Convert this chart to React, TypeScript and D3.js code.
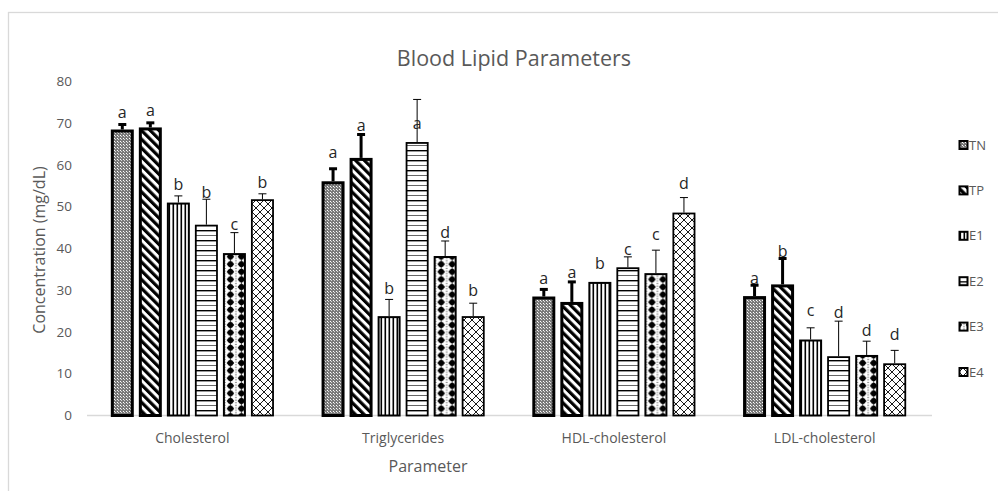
import React, { useEffect, useRef } from "react";
import * as d3 from "d3";

// data
const categories = ["Cholesterol", "Triglycerides", "HDL-cholesterol", "LDL-cholesterol"];
const series = ["TN", "TP", "E1", "E2", "E3", "E4"];
const yTicks = [0, 10, 20, 30, 40, 50, 60, 70, 80];

// mean values per series, one entry per category
const meanTN = [68.5, 56.1, 28.5, 28.6];
const meanTP = [69.0, 61.7, 27.2, 31.4];
const meanE1 = [51.0, 23.8, 32.0, 18.2];
const meanE2 = [45.7, 65.5, 35.5, 14.2];
const meanE3 = [38.9, 38.2, 34.1, 14.5];
const meanE4 = [51.8, 23.8, 48.6, 12.5];

// error (upper only)
const errTN = [1.2, 3.0, 1.7, 2.6];
const errTP = [1.1, 5.6, 4.8, 6.2];
const errE1 = [1.6, 4.0, 0.0, 2.8];
const errE2 = [6.1, 10.2, 2.5, 8.4];
const errE3 = [4.9, 3.6, 5.5, 3.3];
const errE4 = [1.3, 3.1, 3.6, 3.1];

// significance letters and the level (in mg/dL) where each one sits
const lettersTN = ["a", "a", "a", "a"];
const lettersTP = ["a", "a", "a", "b"];
const lettersE1 = ["b", "b", "b", "c"];
const lettersE2 = ["b", "a", "c", "d"];
const lettersE3 = ["c", "d", "c", "d"];
const lettersE4 = ["b", "b", "d", "d"];
const letterLevelTN = [72.5, 62.9, 32.8, 32.8];
const letterLevelTP = [73.1, 69.5, 34.3, 39.3];
const letterLevelE1 = [55.4, 30.4, 36.4, 25.2];
const letterLevelE2 = [53.5, 70.0, 39.7, 24.8];
const letterLevelE3 = [45.8, 43.9, 43.4, 20.4];
const letterLevelE4 = [55.9, 30.0, 55.5, 19.4];

const means = [meanTN, meanTP, meanE1, meanE2, meanE3, meanE4];
const errs = [errTN, errTP, errE1, errE2, errE3, errE4];
const letters = [lettersTN, lettersTP, lettersE1, lettersE2, lettersE3, lettersE4];
const letterLevels = [letterLevelTN, letterLevelTP, letterLevelE1, letterLevelE2, letterLevelE3, letterLevelE4];

const FONT = "'Open Sans', sans-serif";
const GREY = "#595959";

const App = () => {
  const svgRef = useRef<SVGSVGElement>(null);

  useEffect(() => {
    const svg = d3.select(svgRef.current);
    svg.selectAll("*").remove();

    const W = 998;
    const H = 491;
    svg.attr("width", W).attr("height", H);

    svg.append("rect").attr("width", W).attr("height", H).attr("fill", "#fff");
    // chart frame (right / bottom sides fall outside the picture)
    svg
      .append("rect")
      .attr("x", 8.5)
      .attr("y", 12.5)
      .attr("width", 1100)
      .attr("height", 600)
      .attr("fill", "none")
      .attr("stroke", "#d9d9d9")
      .attr("stroke-width", 1.3);

    // scales
    const x0 = d3.scaleBand().domain(categories).range([87, 930]).paddingInner(0.226).paddingOuter(0.113);
    const x1 = d3.scaleBand().domain(series).range([0, x0.bandwidth()]).paddingInner(0.18).paddingOuter(0);
    const y = d3.scaleLinear().domain([0, 80]).range([415.5, 81.5]);

    // fill patterns
    const defs = svg.append("defs");
    const pTN = defs.append("pattern").attr("id", "pTN").attr("patternUnits", "userSpaceOnUse").attr("width", 3).attr("height", 3);
    pTN.append("rect").attr("width", 3).attr("height", 3).attr("fill", "#7a7a7a");
    pTN.append("rect").attr("width", 1).attr("height", 1).attr("fill", "#fff");
    pTN.append("rect").attr("x", 1).attr("y", 1).attr("width", 1).attr("height", 1).attr("fill", "#d8d8d8");

    const pTP = defs.append("pattern").attr("id", "pTP").attr("patternUnits", "userSpaceOnUse").attr("width", 6.2).attr("height", 20).attr("patternTransform", "rotate(-45)");
    pTP.append("rect").attr("width", 6.2).attr("height", 20).attr("fill", "#fff");
    pTP.append("rect").attr("width", 3.2).attr("height", 20).attr("fill", "#000");

    const pE1 = defs.append("pattern").attr("id", "pE1").attr("patternUnits", "userSpaceOnUse").attr("width", 4).attr("height", 4);
    pE1.append("rect").attr("width", 4).attr("height", 4).attr("fill", "#fff");
    pE1.append("rect").attr("x", 0.5).attr("width", 1.6).attr("height", 4).attr("fill", "#000");

    const pE2 = defs.append("pattern").attr("id", "pE2").attr("patternUnits", "userSpaceOnUse").attr("width", 4).attr("height", 10);
    pE2.append("rect").attr("width", 4).attr("height", 10).attr("fill", "#fff");
    pE2.append("rect").attr("y", 0).attr("width", 4).attr("height", 1.4).attr("fill", "#000");
    pE2.append("rect").attr("y", 5).attr("width", 4).attr("height", 1).attr("fill", "#666");

    // E3 sphere pattern, one per category so the two columns sit inside each bar
    categories.forEach((c, ci) => {
      const bx = (x0(c) as number) + (x1("E3") as number);
      const p = defs
        .append("pattern")
        .attr("id", `pE3-${ci}`)
        .attr("patternUnits", "userSpaceOnUse")
        .attr("width", 11)
        .attr("height", 7.6)
        .attr("x", bx + 2)
        .attr("y", 2);
      p.append("rect").attr("width", 11).attr("height", 7.6).attr("fill", "#fff");
      p.append("path").attr("d", "M5.5,0 L9.3,3.8 L5.5,7.6 L1.7,3.8 Z").attr("fill", "#000");
      p.append("circle").attr("cx", 5.5).attr("cy", 3.8).attr("r", 2.9).attr("fill", "#000");
      p.append("path").attr("d", "M0,0V7.6M11,0V7.6").attr("stroke", "#000").attr("stroke-width", 0.8).attr("stroke-dasharray", "1,1.5");
    });

    const pE4 = defs.append("pattern").attr("id", "pE4").attr("patternUnits", "userSpaceOnUse").attr("width", 8).attr("height", 8);
    pE4.append("rect").attr("width", 8).attr("height", 8).attr("fill", "#fff");
    pE4.append("path").attr("d", "M0,0L8,8M8,0L0,8").attr("stroke", "#000").attr("stroke-width", 0.9);

    const fillFor = (si: number, ci: number) =>
      si === 4 ? `url(#pE3-${ci})` : ["url(#pTN)", "url(#pTP)", "url(#pE1)", "url(#pE2)", "", "url(#pE4)"][si];
    const borderW = [3, 3, 2, 1.8, 2, 1.8];
    const errW = [3, 3, 1, 1, 1, 1];

    // title
    svg
      .append("text")
      .attr("x", 514)
      .attr("y", 66)
      .attr("text-anchor", "middle")
      .style("font-family", FONT)
      .style("font-size", "21.5px")
      .attr("fill", GREY)
      .text("Blood Lipid Parameters");

    // y tick labels
    svg
      .append("g")
      .selectAll("text")
      .data(yTicks)
      .enter()
      .append("text")
      .attr("x", 72)
      .attr("y", (d) => y(d))
      .attr("dy", "0.35em")
      .attr("text-anchor", "end")
      .style("font-family", FONT)
      .style("font-size", "13.5px")
      .attr("fill", GREY)
      .text((d) => d);

    // baseline
    svg
      .append("line")
      .attr("x1", 87)
      .attr("x2", 932)
      .attr("y1", y(0))
      .attr("y2", y(0))
      .attr("stroke", "#d9d9d9")
      .attr("stroke-width", 1.3);

    // category labels
    svg
      .append("g")
      .selectAll("text")
      .data(categories)
      .enter()
      .append("text")
      .attr("x", (d) => (x0(d) as number) + x0.bandwidth() / 2)
      .attr("y", 443)
      .attr("text-anchor", "middle")
      .style("font-family", FONT)
      .style("font-size", "14px")
      .attr("fill", GREY)
      .text((d) => d);

    // axis titles
    svg
      .append("text")
      .attr("x", 428)
      .attr("y", 472)
      .attr("text-anchor", "middle")
      .style("font-family", FONT)
      .style("font-size", "16px")
      .attr("fill", GREY)
      .text("Parameter");

    svg
      .append("text")
      .attr("transform", "translate(45,250) rotate(-90)")
      .attr("text-anchor", "middle")
      .style("font-family", FONT)
      .style("font-size", "16px")
      .attr("fill", GREY)
      .text("Concentration (mg/dL)");

    // bars
    series.forEach((s, si) => {
      const g = svg.append("g");
      categories.forEach((c, ci) => {
        const bx = (x0(c) as number) + (x1(s) as number);
        const bw = x1.bandwidth();
        const cx = bx + bw / 2;
        const v = means[si][ci];
        const e = errs[si][ci];
        const inset = borderW[si] / 2;

        // error bar (drawn first so the bar border covers its foot)
        if (e > 0) {
          g.append("line")
            .attr("x1", cx)
            .attr("x2", cx)
            .attr("y1", y(v))
            .attr("y2", y(v + e))
            .attr("stroke", "#000")
            .attr("stroke-width", errW[si]);
          g.append("line")
            .attr("x1", cx - 4)
            .attr("x2", cx + 4)
            .attr("y1", y(v + e))
            .attr("y2", y(v + e))
            .attr("stroke", "#000")
            .attr("stroke-width", errW[si]);
        }

        g.append("rect")
          .attr("x", bx + inset)
          .attr("y", y(v) + inset)
          .attr("width", bw - 2 * inset)
          .attr("height", y(0) - y(v) - inset)
          .attr("fill", fillFor(si, ci))
          .attr("stroke", "#000")
          .attr("stroke-width", borderW[si]);

        g.append("text")
          .attr("x", cx)
          .attr("y", y(letterLevels[si][ci]))
          .attr("dy", "0.35em")
          .attr("text-anchor", "middle")
          .style("font-family", FONT)
          .style("font-size", "16px")
          .attr("fill", "#262626")
          .text(letters[si][ci]);
      });
    });

    // legend
    const legendY = d3.scaleLinear().domain([0, series.length - 1]).range([145, 372]);
    const leg = svg
      .append("g")
      .selectAll("g")
      .data(series)
      .enter()
      .append("g")
      .attr("transform", (d, i) => `translate(959,${legendY(i)})`);
    leg
      .append("rect")
      .attr("x", 0.5)
      .attr("y", -4)
      .attr("width", 8)
      .attr("height", 8)
      .attr("fill", (d, i) => fillFor(i, 0))
      .attr("stroke", "#000")
      .attr("stroke-width", 2);
    leg
      .append("text")
      .attr("x", 10)
      .attr("y", 0)
      .attr("dy", "0.35em")
      .style("font-family", FONT)
      .style("font-size", "13px")
      .attr("fill", GREY)
      .text((d) => d);
  }, []);

  return <svg ref={svgRef} style={{ position: "absolute", left: 0, top: 0 }} />;
};

export default App;
